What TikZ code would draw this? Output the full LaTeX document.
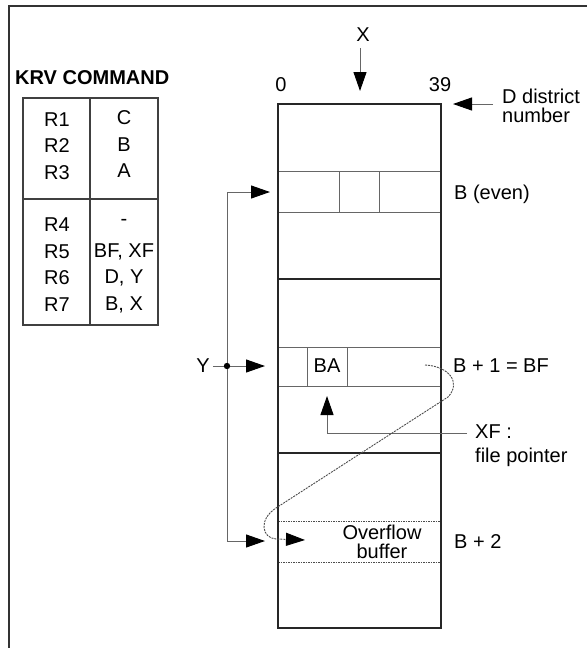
\documentclass[tikz,border=0pt]{standalone}
\usepackage{fontspec}
\setmainfont{Liberation Sans}
\usetikzlibrary{arrows.meta}
\begin{document}
\begin{tikzpicture}[x=1pt,y=-1pt,
  txt/.style={inner sep=0pt,font=\fontsize{20}{22}\selectfont},
  thick line/.style={line width=2.2pt,black!85},
  thin line/.style={line width=0.9pt,black!60},
  conn/.style={line width=1pt,black!60,-{Triangle[length=19pt,width=13pt]},arrows={[color=black]}},
  tbl/.style={line width=1.3pt,black!75},
  dotline/.style={line width=1pt,black!70,dash pattern=on 1.5pt off 1pt}]
\useasboundingbox (0,0) rectangle (587,648);
% frame
\draw[line width=2pt,black!80] (9,648) -- (9,6) -- (587,6);
% table
\node[txt,font=\fontsize{20}{22}\selectfont\bfseries,anchor=west] (krv) at (15,78) {KRV COMMAND};
\draw[tbl] (23,98) rectangle (158,325);
\draw[tbl] (90,98) -- (90,325);
\draw[tbl] (23,199) -- (158,199);
\node[txt] (r1) at (57,120) {R1};
\node[txt] (r2) at (57,146) {R2};
\node[txt] (r3) at (57,173) {R3};
\node[txt] (v1) at (124,118) {C};
\node[txt] (v2) at (124,145) {B};
\node[txt] (v3) at (124,171) {A};
\node[txt] (r4) at (57,225) {R4};
\node[txt] (r5) at (57,252) {R5};
\node[txt] (r6) at (57,278) {R6};
\node[txt] (r7) at (57,305) {R7};
\node[txt] (v4) at (124,222) {-};
\node[txt] (v5) at (124,252) {BF, XF};
\node[txt] (v6) at (124,278) {D, Y};
\node[txt] (v7) at (124,305) {B, X};
% column
\draw[thin line] (278,171) -- (441,171) (278,212) -- (441,212);
\draw[thin line] (339,171) -- (339,212) (379,171) -- (379,212);
\draw[thin line] (278,347) -- (441,347) (278,386) -- (441,386);
\draw[thin line] (307,347) -- (307,386) (347,347) -- (347,386);
\draw[dotline] (278,521) -- (441,521) (278,562) -- (441,562);
\draw[thick line] (278,279) -- (441,279) (278,453) -- (441,453);
\draw[thick line] (278,104) rectangle (441,628);
\node[txt] (ba) at (327,366) {BA};
\node[txt,align=center,font=\fontsize{20}{19}\selectfont] (ovf) at (382,542) {Overflow\\buffer};
% top labels
\node[txt] (zero) at (281,85) {0};
\node[txt] (n39) at (440,85) {39};
\node[txt] (xl) at (363,35) {X};
\coordinate (xtip) at (360,91);
\draw[conn] (xl.south -| xtip) ++(0,6) -- (xtip);
\node[txt,anchor=west,align=left,font=\fontsize{20}{19}\selectfont] (dd) at (502,106) {D district\\number};
\coordinate (dtip) at (453,104);
\draw[conn] (dd.west |- dtip) ++(-9,0) -- (dtip);
% right labels
\node[txt,anchor=west] (beven) at (454,194) {B (even)};
\node[txt,anchor=west] (bbf) at (453,366) {B + 1 = BF};
\node[txt,anchor=west] (b2) at (454,542) {B + 2};
\node[txt,anchor=west,align=left,font=\fontsize{20}{24}\selectfont] (xf) at (475,446) {XF :\\file pointer};
\coordinate (xfc) at (327,433);
\coordinate (xftip) at (327,396);
\draw[conn] (xf.west |- xfc) ++(-8,0) -- (xfc) -- (xftip);
% Y arrows
\node[txt] (yl) at (203,366) {Y};
\coordinate (ydot) at (227,366);
\coordinate (ytop) at (227,192);
\coordinate (ybot) at (227,541);
\coordinate (t1) at (270,192);
\coordinate (t2) at (265,366);
\coordinate (t3) at (265,541);
\draw[conn] (yl.east) ++(3,0) -- (t2);
\draw[line width=1pt,black!60] (ytop) -- (ybot);
\draw[conn] (ytop) -- (t1);
\draw[conn] (ybot) -- (t3);
\fill (ydot) circle (3.2pt);
% dashed curve
\coordinate (cs) at (425,365);
\coordinate (ce) at (305,540);
\draw[line width=0.9pt,black!70,dash pattern=on 2pt off 1pt,-{Triangle[length=19pt,width=13pt]},arrows={[color=black]}]
  (cs) .. controls (448,366) and (462,382) .. (448,397)
  -- (276,508) .. controls (258,520) and (262,538) .. (276,539) -- (ce);
\end{tikzpicture}
\end{document}
